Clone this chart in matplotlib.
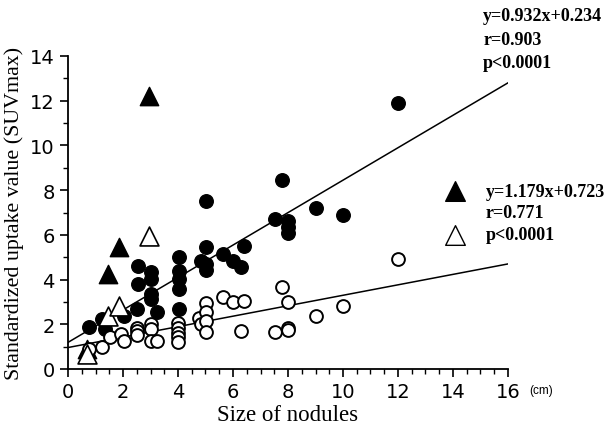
import numpy as np
import matplotlib
matplotlib.use("Agg")
import matplotlib.pyplot as plt
from matplotlib.ticker import MultipleLocator
from matplotlib import font_manager

# -----------------------------
# Data
# -----------------------------
filled_circle_x = [0.75, 1.24, 1.36, 2.03, 2.51, 2.53, 2.53, 3.01, 3.01, 3.01, 3.01, 3.25,
                   4.02, 4.02, 4.02, 4.02, 4.02, 4.84, 5.02, 5.02, 5.02, 5.02,
                   5.65, 6.0, 6.29, 6.39, 7.51, 7.79, 8.0, 8.0, 8.0, 9.0, 10.0, 12.0]
filled_circle_y = [1.86, 2.24, 1.79, 2.38, 2.68, 4.59, 3.8, 4.32, 4.02, 3.35, 3.13, 2.53,
                   5.0, 4.4, 4.02, 3.58, 2.68, 4.84, 7.53, 5.44, 4.7, 4.45,
                   5.14, 4.84, 4.55, 5.5, 6.72, 8.47, 6.63, 6.33, 6.07, 7.18, 6.88, 11.9]

open_circle_x = [0.75, 1.24, 1.54, 1.91, 2.03, 2.51, 2.51, 2.51, 3.0, 3.0, 3.0, 3.24,
                 4.0, 4.0, 4.0, 4.0, 4.0, 4.75, 4.85, 5.02, 5.02, 5.02, 5.02,
                 5.62, 6.0, 6.39, 6.29, 7.51, 7.79, 8.0, 8.0, 8.0, 9.0, 10.0, 12.0]
open_circle_y = [0.9, 0.97, 1.42, 1.57, 1.27, 1.85, 1.71, 1.5, 2.0, 1.78, 1.27, 1.27,
                 2.07, 1.85, 1.63, 1.41, 1.19, 2.3, 2.0, 2.95, 2.53, 2.16, 1.67,
                 3.2, 2.98, 3.05, 1.71, 1.64, 3.65, 2.98, 1.85, 1.73, 2.38, 2.83, 4.92]

filled_tri_x = [0.69, 1.47, 1.86, 2.95]
filled_tri_y = [0.89, 4.25, 5.44, 12.2]
open_tri_x = [0.69, 1.47, 1.86, 2.95]
open_tri_y = [0.67, 2.38, 2.83, 5.96]

# regression lines as drawn (end points)
line1_x = [0, 16]
line1_y = [1.19, 12.8]
line2_x = [0, 16]
line2_y = [0.96, 4.7]

eq1_lines = ["y=0.932x+0.234", "r=0.903", "p<0.0001"]
eq2_lines = ["y=1.179x+0.723", "r=0.771", "p<0.0001"]

# -----------------------------
# Plot
# -----------------------------
fig = plt.figure(figsize=(6.14, 4.35), dpi=100)
ax = fig.add_axes([68 / 614, 1 - 370 / 435, 440 / 614, 313 / 435])

ax.plot(line1_x, line1_y, color="black", lw=1.1, zorder=1)
ax.plot(line2_x, line2_y, color="black", lw=1.1, zorder=1)

ax.scatter(filled_circle_x, filled_circle_y, s=95, color="black", zorder=2, clip_on=False)
ax.scatter(filled_tri_x, filled_tri_y, s=175, marker="^", color="black", zorder=3, clip_on=False)
ax.scatter(open_circle_x, open_circle_y, s=85, facecolor="white", edgecolor="black",
           linewidth=1.4, zorder=4, clip_on=False)
ax.scatter(open_tri_x, open_tri_y, s=185, marker="^", facecolor="white", edgecolor="black",
           linewidth=1.2, zorder=5, clip_on=False)

ax.set_xlim(0, 16)
ax.set_ylim(0, 14)
ax.spines["top"].set_visible(False)
ax.spines["right"].set_visible(False)
ax.spines["left"].set_linewidth(1.3)
ax.spines["bottom"].set_linewidth(1.3)

ax.xaxis.set_major_locator(MultipleLocator(2))
ax.xaxis.set_minor_locator(MultipleLocator(0.5))
ax.yaxis.set_major_locator(MultipleLocator(2))
ax.yaxis.set_minor_locator(MultipleLocator(1))
ax.tick_params(which="major", length=6, width=1.2, direction="out")
ax.tick_params(which="minor", length=3.5, width=1.0, direction="out")

for lab in ax.get_xticklabels() + ax.get_yticklabels():
    lab.set_fontproperties(font_manager.FontProperties(family="DejaVu Sans", size=14))

ax.set_xlabel("Size of nodules", family="Liberation Serif", fontsize=16.5, labelpad=2)
ax.set_ylabel("Standardized uptake value (SUVmax)", family="Liberation Serif", fontsize=15.8,
              labelpad=4)

ax.text(17.2, -0.95, "(cm)", family="Liberation Sans", fontsize=8.5, ha="center", va="center",
        clip_on=False)

# annotations
ann = dict(family="Liberation Serif", fontweight="bold", fontsize=13, va="center",
           ha="left", clip_on=False)
for i, t in enumerate(eq1_lines):
    ax.text(15.1, 15.8 - i * 1.05, t, **ann)
for i, t in enumerate(eq2_lines):
    ax.text(15.2, 7.96 - i * 0.98, t, **ann)

ax.scatter([14.07], [7.96], s=200, marker="^", color="black", clip_on=False)
ax.scatter([14.07], [6.0], s=200, marker="^", facecolor="white", edgecolor="black",
           linewidth=1.0, clip_on=False)

fig.savefig("out.png", dpi=100)
